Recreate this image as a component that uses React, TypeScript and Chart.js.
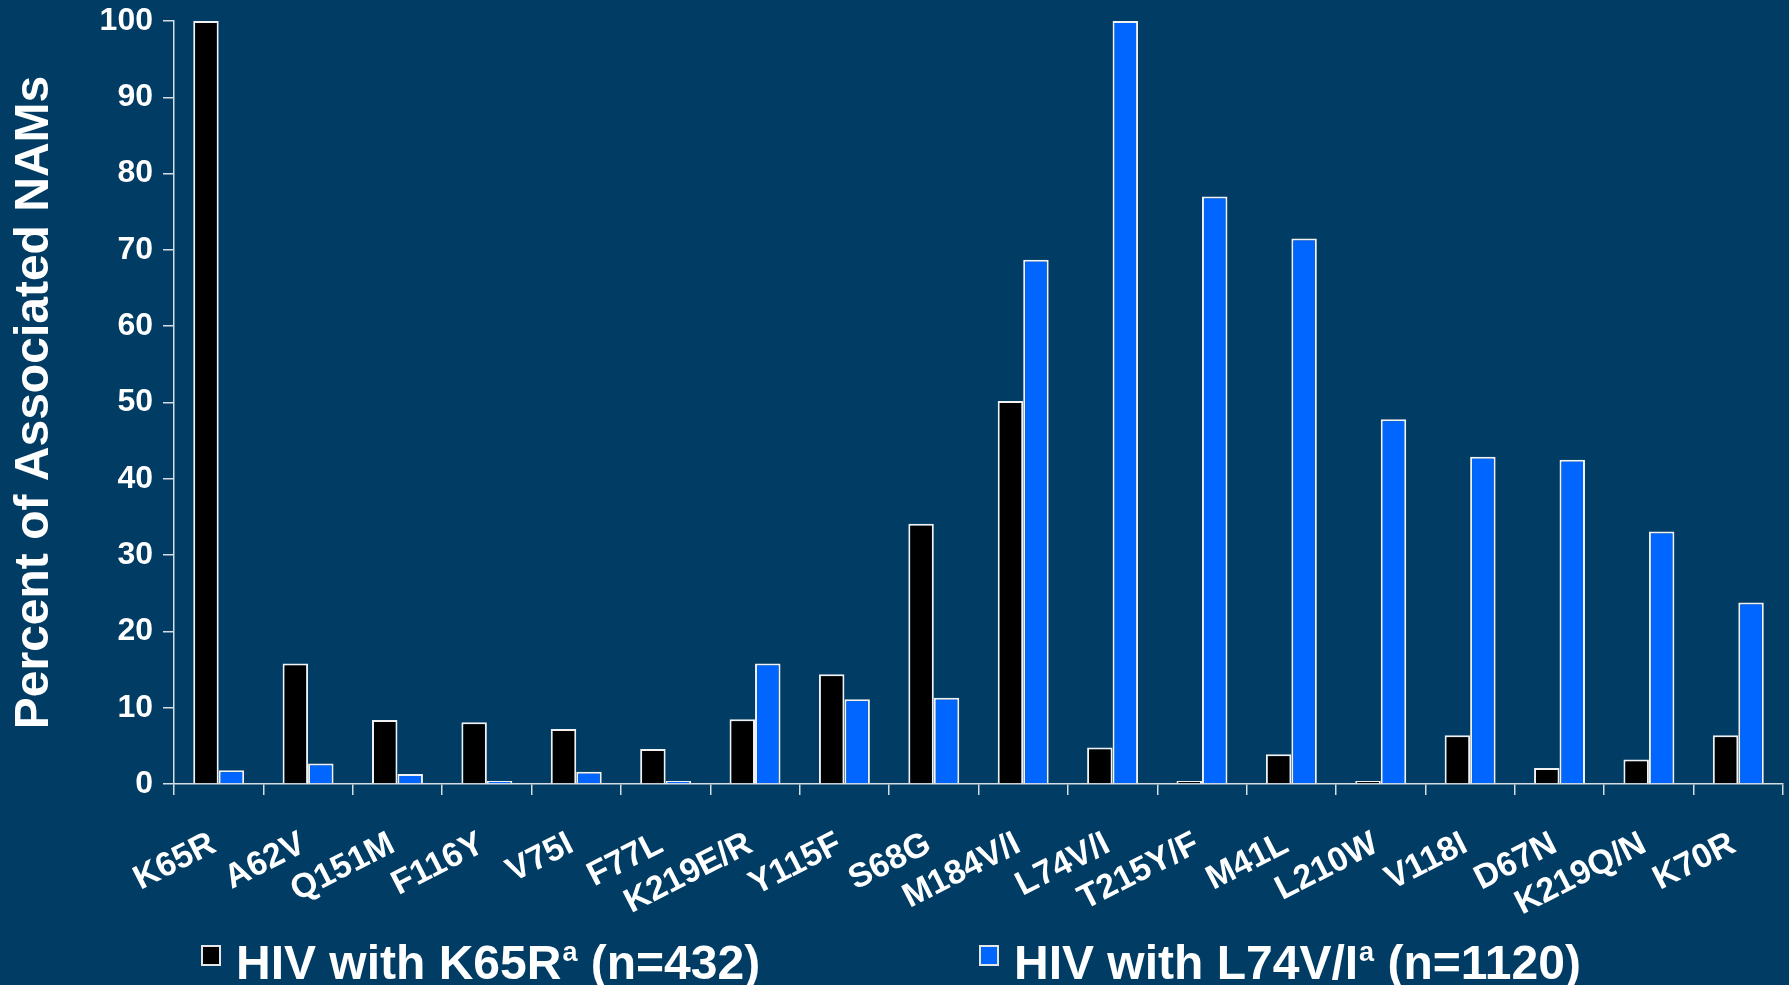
import React, { useEffect, useRef } from "react";
import { Chart, registerables } from "chart.js";

Chart.register(...registerables);

// Reverse-transcriptase mutations on the x axis
const mutations = [
  "K65R", "A62V", "Q151M", "F116Y", "V75I", "F77L", "K219E/R", "Y115F", "S68G",
  "M184V/I", "L74V/I", "T215Y/F", "M41L", "L210W", "V118I", "D67N", "K219Q/N", "K70R",
];

// Percent of isolates carrying each mutation
const k65rPercent = [
  100, 15.8, 8.4, 8.1, 7.2, 4.6, 8.5, 14.4, 34.1,
  50.2, 4.8, 0.4, 3.9, 0.4, 6.4, 2.1, 3.2, 6.4,
];
const l74viPercent = [
  1.8, 2.7, 1.3, 0.4, 1.6, 0.4, 15.8, 11.1, 11.3,
  68.7, 100, 77.0, 71.5, 47.8, 42.9, 42.5, 33.1, 23.8,
];

// Legend text pieces: name, superscript, sample size
const seriesNames = ["HIV with K65R", "HIV with L74V/I"];
const seriesNote = ["a", "a"];
const seriesN = [432, 1120];

const yTickValues = [0, 10, 20, 30, 40, 50, 60, 70, 80, 90, 100];

const BG = "#003C64";
const FONT = "'Liberation Sans', Arial, sans-serif";
const AXIS = "#d6dde3";

const legendX = [201, 979];

const legendPlugin = {
  id: "seriesLegend",
  afterDraw(chart: any) {
    const ctx = chart.ctx as CanvasRenderingContext2D;
    const baseline = 979;
    ctx.save();
    chart.data.datasets.forEach((ds: any, i: number) => {
      const x = legendX[i];
      // swatch
      ctx.fillStyle = ds.backgroundColor;
      ctx.fillRect(x, 945, 20, 21);
      ctx.strokeStyle = "#e6e6e6";
      ctx.lineWidth = 2;
      ctx.strokeRect(x + 1, 946, 18, 19);
      // label
      ctx.fillStyle = "#ffffff";
      ctx.textBaseline = "alphabetic";
      ctx.textAlign = "left";
      let tx = x + 35;
      ctx.font = `bold 48px ${FONT}`;
      ctx.fillText(seriesNames[i], tx, baseline);
      tx += ctx.measureText(seriesNames[i]).width + 1;
      ctx.font = `bold 27px ${FONT}`;
      ctx.fillText(seriesNote[i], tx, baseline - 18);
      tx += ctx.measureText(seriesNote[i]).width;
      ctx.font = `bold 48px ${FONT}`;
      ctx.fillText(` (n=${seriesN[i]})`, tx, baseline);
    });
    ctx.restore();
  },
};

export default function App() {
  const canvasRef = useRef<HTMLCanvasElement | null>(null);

  useEffect(() => {
    if (!canvasRef.current) return;
    const chart = new Chart(canvasRef.current, {
      type: "bar",
      data: {
        labels: mutations,
        datasets: [
          {
            label: `${seriesNames[0]}${seriesNote[0]} (n=${seriesN[0]})`,
            data: k65rPercent,
            backgroundColor: "#000000",
            borderColor: "#f2f2f2",
            borderWidth: 2,
          },
          {
            label: `${seriesNames[1]}${seriesNote[1]} (n=${seriesN[1]})`,
            data: l74viPercent,
            backgroundColor: "#0066FF",
            borderColor: "#f2f2f2",
            borderWidth: 2,
          },
        ],
      },
      options: {
        responsive: false,
        animation: false,
        devicePixelRatio: 1,
        layout: { padding: { top: 0, right: 6, left: 0, bottom: 0 } },
        datasets: {
          bar: { categoryPercentage: 0.57, barPercentage: 1.0 },
        },
        plugins: {
          legend: { display: false },
          tooltip: { enabled: false },
        },
        scales: {
          x: {
            offset: true,
            grid: {
              offset: true,
              drawOnChartArea: false,
              drawTicks: true,
              tickLength: 11,
              color: AXIS,
              lineWidth: 1.5,
            },
            border: { color: AXIS, width: 1.5 },
            ticks: {
              autoSkip: false,
              maxRotation: 27,
              minRotation: 27,
              padding: 29,
              labelOffset: -5,
              color: "#ffffff",
              font: { family: FONT, size: 34, weight: "bold" },
            },
            afterFit(scale: any) {
              scale.height = 201;
            },
          },
          y: {
            min: 0,
            max: 100,
            afterBuildTicks(scale: any) {
              scale.ticks = yTickValues.map((v) => ({ value: v }));
            },
            grid: {
              drawOnChartArea: false,
              drawTicks: true,
              tickLength: 11,
              color: AXIS,
              lineWidth: 1.5,
            },
            border: { color: AXIS, width: 1.5 },
            ticks: {
              padding: 10,
              color: "#ffffff",
              font: { family: FONT, size: 32, weight: "bold" },
            },
            title: {
              display: true,
              text: "Percent of Associated NAMs",
              color: "#ffffff",
              font: { family: FONT, size: 48, weight: "bold" },
              padding: { top: 6, bottom: 0 },
            },
            afterFit(scale: any) {
              scale.width = 174;
              scale.paddingTop = 21;
            },
          },
        },
      },
      plugins: [legendPlugin],
    });
    return () => chart.destroy();
  }, []);

  return (
    <div
      style={{
        position: "fixed",
        left: 0,
        top: 0,
        width: 1789,
        height: 985,
        background: BG,
      }}
    >
      <canvas ref={canvasRef} width={1789} height={985} style={{ display: "block" }} />
    </div>
  );
}
